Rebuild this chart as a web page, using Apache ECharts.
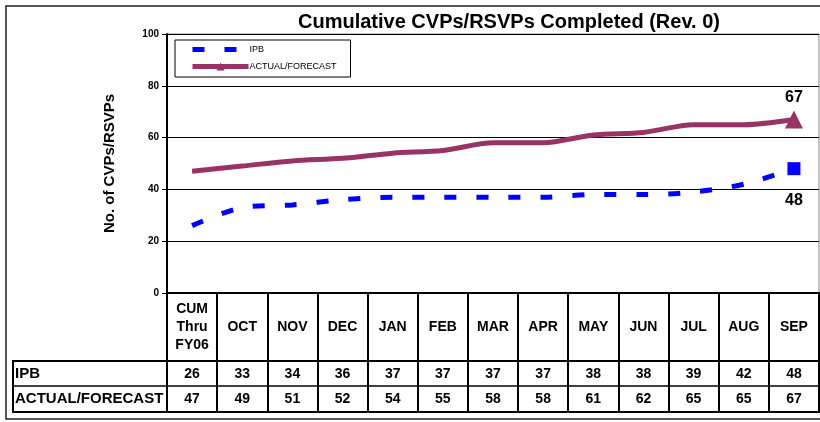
<!DOCTYPE html>
<html>
<head>
<meta charset="utf-8">
<script src="https://cdn.jsdelivr.net/npm/echarts@6/dist/echarts.min.js"></script>
<style>
  html, body { margin: 0; padding: 0; background: #fff; }
  #main { width: 820px; height: 422px; }
</style>
</head>
<body>
<div id="main"></div>
<script>
    // 数据
    var months = ['CUM\nThru\nFY06', 'OCT', 'NOV', 'DEC', 'JAN', 'FEB', 'MAR', 'APR', 'MAY', 'JUN', 'JUL', 'AUG', 'SEP'];
    var ipb = [26, 33, 34, 36, 37, 37, 37, 37, 38, 38, 39, 42, 48];
    var actual = [47, 49, 51, 52, 54, 55, 58, 58, 61, 62, 65, 65, 67];
    var seriesNames = ['IPB', 'ACTUAL/FORECAST'];

    var FONT = 'Liberation Sans';

    // only the last point gets a marker + value label
    function endMark(arr, symbol, size, pos, dist) {
        var last = arr.length - 1;
        return arr.map(function (v, i) {
            if (i !== last) return v;
            return {
                value: v, symbol: symbol, symbolSize: size,
                label: { show: true, position: pos, distance: dist }
            };
        });
    }

    var valueLabel = { fontFamily: FONT, fontWeight: 'bold', fontSize: 16, color: '#000' };
    var cellText = { fontFamily: FONT, fontWeight: 'bold', fontSize: 14, color: '#000' };
    var rowText = { fontFamily: FONT, fontWeight: 'bold', fontSize: 15, fill: '#000' };

    function rowAxis(values, offset) {
        return {
            type: 'category', data: months, position: 'bottom', offset: offset,
            axisLine: { show: false }, axisTick: { show: false },
            axisLabel: Object.assign({
                interval: 0, margin: 13, verticalAlign: 'middle',
                formatter: function (v, i) { return String(values[i]); }
            }, cellText)
        };
    }

    var option = {
        animation: false,
        backgroundColor: '#fff',
        title: {
            text: 'Cumulative CVPs/RSVPs Completed (Rev. 0)',
            left: 298, top: 12, padding: 0,
            textStyle: { fontFamily: FONT, fontWeight: 'bold', fontSize: 20, color: '#000' }
        },
        legend: {
            orient: 'vertical', left: 175, top: 40,
            itemWidth: 56, itemHeight: 10, itemGap: 8,
            padding: [5, 14, 6, 15],
            borderColor: '#000', borderWidth: 1, backgroundColor: '#fff',
            lineStyle: { width: 5 },
            textStyle: { fontFamily: FONT, fontSize: 9, color: '#000', padding: [0, 0, 0, -4] },
            data: [
                { name: seriesNames[0], itemStyle: { opacity: 0 } },
                { name: seriesNames[1] }
            ]
        },
        grid: {
            left: 167, right: 1, top: 34, bottom: 129,
            show: true, borderColor: '#888', borderWidth: 1
        },
        yAxis: {
            type: 'value', min: 0, max: 100, interval: 20,
            name: 'No. of CVPs/RSVPs', nameLocation: 'middle', nameGap: 50,
            nameTextStyle: { fontFamily: FONT, fontWeight: 'bold', fontSize: 15, color: '#000' },
            axisLine: { show: true, lineStyle: { color: '#000', width: 2 } },
            axisTick: { show: true, length: 5, lineStyle: { color: '#000' } },
            axisLabel: { fontFamily: FONT, fontWeight: 'bold', fontSize: 10, color: '#000', margin: 8 },
            splitLine: { lineStyle: { color: '#000', width: 1 } }
        },
        xAxis: [
            {
                type: 'category', data: months, position: 'bottom',
                axisLine: { lineStyle: { color: '#000', width: 2 } },
                axisTick: { show: true, interval: 0, length: 119, lineStyle: { color: '#000', width: 2 } },
                axisLabel: Object.assign({ interval: 0, margin: 34, lineHeight: 18, verticalAlign: 'middle' }, cellText)
            },
            rowAxis(ipb, 68),
            rowAxis(actual, 93)
        ],
        series: [
            {
                name: seriesNames[0], type: 'line', xAxisIndex: 0,
                symbol: 'none', smooth: 0.3, z: 3,
                lineStyle: { color: '#0000ff', width: 5, type: [12, 20] },
                itemStyle: { color: '#0000ff' },
                label: valueLabel,
                data: endMark(ipb, 'rect', 13, 'bottom', 17)
            },
            {
                name: seriesNames[1], type: 'line', xAxisIndex: 0,
                symbol: 'triangle', symbolSize: 0, smooth: 0.3, z: 4,
                lineStyle: { color: '#993366', width: 5 },
                itemStyle: { color: '#993366' },
                label: valueLabel,
                data: endMark(actual, 'triangle', 18, 'top', 5)
            }
        ],
        graphic: [
            // outer frame
            { type: 'rect', shape: { x: 6, y: 6, width: 830, height: 413 }, style: { fill: null, stroke: '#222', lineWidth: 1.5 }, silent: true },
            // data table rows
            { type: 'rect', shape: { x: 13, y: 361, width: 806, height: 51 }, style: { fill: null, stroke: '#000', lineWidth: 2 }, silent: true, z: 10 },
            { type: 'line', shape: { x1: 13, y1: 386, x2: 819, y2: 386 }, style: { stroke: '#000', lineWidth: 1.5 }, silent: true, z: 10 },
            { type: 'text', left: 15, top: 366, style: Object.assign({ text: seriesNames[0] }, rowText), z: 10 },
            { type: 'text', left: 15, top: 391, style: Object.assign({ text: seriesNames[1] }, rowText), z: 10 }
        ]
    };

    var chart = echarts.init(document.getElementById('main'));
    chart.setOption(option);
</script>
</body>
</html>
